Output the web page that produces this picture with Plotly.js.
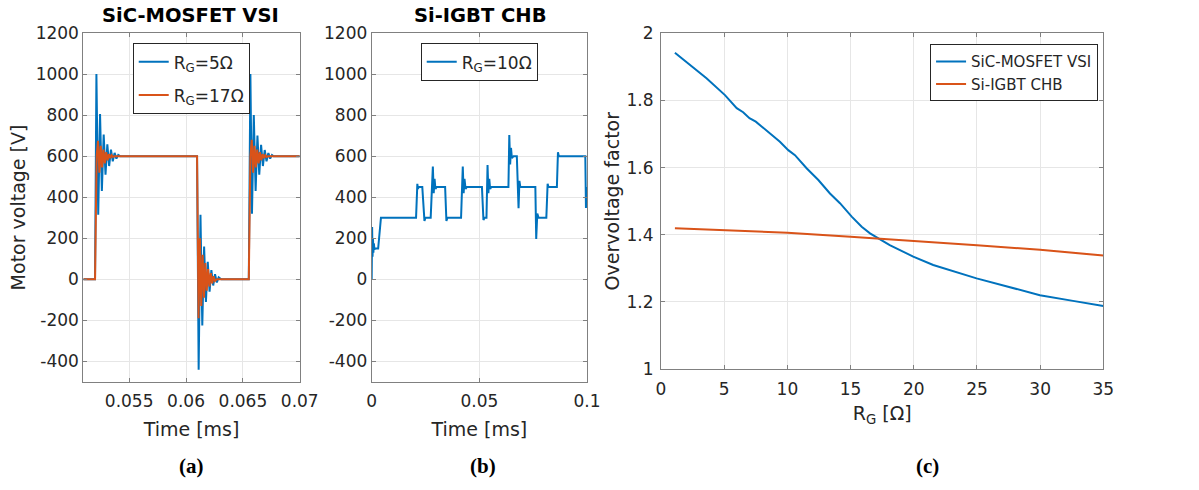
<!DOCTYPE html>
<html>
<head>
<meta charset="utf-8">
<script src="https://cdn.plot.ly/plotly-3.0.1.min.js"></script>
<style>html,body{margin:0;padding:0;background:#fff;}#chart{width:1199px;height:490px;}</style>
</head>
<body>
<div id="chart"></div>
<script>
// ---------- Panel (a): SiC-MOSFET VSI ----------
const tA5 = [0.05097, 0.0520, 0.05212, 0.05228, 0.05244, 0.0526, 0.05276, 0.05292, 0.05308, 0.05324, 0.0534, 0.05356, 0.05372, 0.05388, 0.05404, 0.0542,
  0.06097, 0.06111, 0.06127, 0.06143, 0.06159, 0.06175, 0.06191, 0.06207, 0.06223, 0.06239, 0.06255, 0.06271, 0.06287, 0.0631,
  0.06552, 0.06566, 0.0658, 0.06596, 0.06612, 0.06628, 0.06644, 0.0666, 0.06676, 0.06692, 0.06708, 0.06724, 0.0674, 0.06756, 0.0677, 0.07];
const vA5 = [0, 0, 1000, 315, 805, 430, 705, 510, 658, 552, 632, 575, 616, 588, 606, 600,
  600, -440, 315, -225, 160, -110, 85, -60, 45, -30, 25, -15, 10, 0,
  0, 1000, 320, 800, 430, 700, 510, 655, 552, 630, 575, 615, 588, 606, 600, 600];
const tA17 = [0.05097, 0.0520, 0.05214, 0.05226, 0.05238, 0.0525, 0.05262, 0.05274, 0.05286, 0.05298, 0.0531, 0.05322, 0.05334, 0.05346, 0.05358, 0.0537,
  0.06097, 0.0611, 0.06122, 0.06134, 0.06146, 0.06158, 0.0617, 0.06182, 0.06194, 0.06206, 0.06218, 0.0623, 0.06242, 0.06254, 0.0627,
  0.06552, 0.06566, 0.06578, 0.0659, 0.06602, 0.06614, 0.06626, 0.06638, 0.0665, 0.06662, 0.06674, 0.06686, 0.06698, 0.0671, 0.0672, 0.07];
const vA17 = [0, 0, 600, 675, 520, 650, 545, 632, 565, 620, 580, 610, 590, 605, 596, 600,
  600, -190, 200, -130, 120, -90, 80, -55, 50, -35, 30, -20, 15, -8, 0,
  0, 600, 680, 520, 650, 545, 632, 565, 620, 580, 610, 590, 605, 596, 600, 600];

// ---------- Panel (b): Si-IGBT CHB ----------
const tB = [0, 0.0002, 0.0004, 0.0006, 0.0008, 0.001, 0.0013, 0.0016, 0.003, 0.0043,
  0.0206, 0.0212, 0.0215, 0.0218, 0.0235, 0.0245, 0.0250,
  0.0274, 0.0284, 0.0288, 0.0292, 0.0296, 0.0302, 0.0341, 0.0347, 0.0352,
  0.0415, 0.0423, 0.0427, 0.0431, 0.0436, 0.0442, 0.0512, 0.0519, 0.0524,
  0.0533, 0.0538, 0.0542, 0.0546, 0.055, 0.0555,
  0.0635, 0.0639, 0.0643, 0.0647, 0.0651, 0.0659, 0.0674, 0.0682, 0.0686, 0.069,
  0.076, 0.0764, 0.0769, 0.0775, 0.0811, 0.0817, 0.0821, 0.086, 0.0865, 0.0869,
  0.0992, 0.0995, 0.0998, 0.1];
const vB = [0, 255, 110, 200, 130, 175, 145, 150, 150, 300,
  300, 465, 440, 450, 450, 285, 300,
  300, 550, 420, 490, 440, 450, 450, 285, 300,
  300, 550, 420, 490, 440, 450, 450, 289, 300,
  300, 557, 420, 490, 440, 450,
  450, 703, 560, 640, 590, 600, 600, 346, 480, 450,
  450, 197, 320, 300, 300, 465, 450, 450, 619, 600,
  600, 348, 430, 450];

// ---------- Panel (c): overvoltage factor vs R_G ----------
const rgSiC = [1.1, 2.56, 3.6, 5.06, 5.99, 6.5, 7.0, 7.5, 8.62, 9.41, 10.07, 10.6, 11.52, 12.45, 13.37, 14.16, 15.09, 15.88, 16.54, 17.46, 18.1, 19.96, 21.54, 24.97, 28.13, 29.98, 32.6, 35];
const ovSiC = [1.942, 1.896, 1.866, 1.816, 1.777, 1.765, 1.747, 1.737, 1.702, 1.677, 1.652, 1.637, 1.598, 1.563, 1.523, 1.494, 1.454, 1.424, 1.404, 1.384, 1.369, 1.335, 1.310, 1.270, 1.237, 1.220, 1.203, 1.188];
const rgSi = [1.1, 5, 10, 15, 20, 25, 30, 35];
const ovSi = [1.419, 1.413, 1.406, 1.394, 1.382, 1.369, 1.355, 1.338];

// tick labels
const voltTicks = [-400, -200, 0, 200, 400, 600, 800, 1000, 1200];
const voltTickText = ['-400', '-200', '0', '200', '400', '600', '800', '1000', '1200'];
const timeTicksA = [0.055, 0.06, 0.065, 0.07];
const timeTickTextA = ['0.055', '0.06', '0.065', '0.07'];
const timeTicksB = [0, 0.05, 0.1];
const timeTickTextB = ['0', '0.05', '0.1'];

const BLUE = '#0072BD', ORANGE = '#D95319';
const TXT = '#262626';
const F = 'DejaVu Sans, Verdana, sans-serif';
const SERIF = 'Liberation Serif, Times New Roman, serif';

const traces = [
  {x: tA5, y: vA5, xaxis: 'x', yaxis: 'y', mode: 'lines', name: 'R<sub>G</sub>=5Ω', line: {color: BLUE, width: 2}, legend: 'legend', legendgroup: 'a1'},
  {x: tA17, y: vA17, xaxis: 'x', yaxis: 'y', mode: 'lines', name: 'R<sub>G</sub>=17Ω', line: {color: ORANGE, width: 2}, legend: 'legend', legendgroup: 'a2'},
  {x: tB, y: vB, xaxis: 'x2', yaxis: 'y2', mode: 'lines', name: 'R<sub>G</sub>=10Ω', line: {color: BLUE, width: 2}, legend: 'legend2', legendgroup: 'b1'},
  {x: rgSiC, y: ovSiC, xaxis: 'x3', yaxis: 'y3', mode: 'lines', name: 'SiC-MOSFET VSI', line: {color: BLUE, width: 2}, legend: 'legend3', legendgroup: 'c1'},
  {x: rgSi, y: ovSi, xaxis: 'x3', yaxis: 'y3', mode: 'lines', name: 'Si-IGBT CHB', line: {color: ORANGE, width: 2}, legend: 'legend3', legendgroup: 'c2'}
];

const axBase = {
  showline: true, mirror: 'ticks', linecolor: '#808080', linewidth: 1,
  ticks: 'inside', ticklen: 4, tickcolor: '#808080',
  showgrid: true, gridcolor: '#e6e6e6', gridwidth: 1, zeroline: false,
  tickfont: {family: F, size: 17, color: TXT}
};
const titleFont = {family: F, size: 19, color: TXT};

const legBase = {
  bgcolor: '#ffffff', bordercolor: '#262626', borderwidth: 1,
  font: {family: F, size: 17, color: TXT}, xanchor: 'left', yanchor: 'top', itemwidth: 30
};

const layout = {
  width: 1199, height: 490,
  margin: {l: 0, r: 0, t: 0, b: 0},
  paper_bgcolor: '#ffffff', plot_bgcolor: '#ffffff',
  showlegend: true,
  xaxis: Object.assign({}, axBase, {domain: [0.0695, 0.25], range: [0.05097, 0.07], tickvals: timeTicksA, ticktext: timeTickTextA, anchor: 'y', ticklabelstandoff: 4,
    title: {text: 'Time [ms]', font: titleFont, standoff: 12}}),
  yaxis: Object.assign({}, axBase, {domain: [0.2204, 0.9327], range: [-500, 1200], tickvals: voltTicks, ticktext: voltTickText, anchor: 'x',
    title: {text: 'Motor voltage [V]', font: titleFont, standoff: 5}}),
  xaxis2: Object.assign({}, axBase, {domain: [0.31, 0.4896], range: [0, 0.1], tickvals: timeTicksB, ticktext: timeTickTextB, anchor: 'y2', ticklabelstandoff: 4,
    title: {text: 'Time [ms]', font: titleFont, standoff: 12}}),
  yaxis2: Object.assign({}, axBase, {domain: [0.2204, 0.9327], range: [-500, 1200], tickvals: voltTicks, ticktext: voltTickText, anchor: 'x2'}),
  xaxis3: Object.assign({}, axBase, {domain: [0.5513, 0.9202], range: [0, 35], dtick: 5, tick0: 0, anchor: 'y3', ticklabelstandoff: 5,
    title: {text: 'R<sub>G</sub> [Ω]', font: titleFont, standoff: 8}}),
  yaxis3: Object.assign({}, axBase, {domain: [0.2469, 0.932], range: [1, 2], dtick: 0.2, tick0: 1, anchor: 'x3', ticklabelstandoff: 3,
    title: {text: 'Overvoltage factor', font: titleFont, standoff: 1}}),
  legend: Object.assign({}, legBase, {x: 0.1107, y: 0.9116, traceorder: 'grouped', tracegroupgap: 8}),
  legend2: Object.assign({}, legBase, {x: 0.3509, y: 0.9116}),
  legend3: Object.assign({}, legBase, {x: 0.7757, y: 0.9096, traceorder: 'grouped', tracegroupgap: 0, font: {family: F, size: 15, color: TXT}}),
  annotations: [
    {text: '<b>SiC-MOSFET VSI</b>', xref: 'paper', yref: 'paper', x: 190 / 1199, y: 1 - 16 / 490, xanchor: 'center', yanchor: 'middle', showarrow: false, font: {family: F, size: 19.5, color: '#000'}},
    {text: '<b>Si-IGBT CHB</b>', xref: 'paper', yref: 'paper', x: 480 / 1199, y: 1 - 16 / 490, xanchor: 'center', yanchor: 'middle', showarrow: false, font: {family: F, size: 19.5, color: '#000'}},
    {text: '<b>(a)</b>', xref: 'paper', yref: 'paper', x: 191 / 1199, y: 1 - 466 / 490, xanchor: 'center', yanchor: 'middle', showarrow: false, font: {family: SERIF, size: 21, color: '#000'}},
    {text: '<b>(b)</b>', xref: 'paper', yref: 'paper', x: 483 / 1199, y: 1 - 466 / 490, xanchor: 'center', yanchor: 'middle', showarrow: false, font: {family: SERIF, size: 21, color: '#000'}},
    {text: '<b>(c)</b>', xref: 'paper', yref: 'paper', x: 927 / 1199, y: 1 - 466 / 490, xanchor: 'center', yanchor: 'middle', showarrow: false, font: {family: SERIF, size: 21, color: '#000'}}
  ]
};

Plotly.newPlot('chart', traces, layout, {displayModeBar: false, staticPlot: true});
</script>
</body>
</html>
